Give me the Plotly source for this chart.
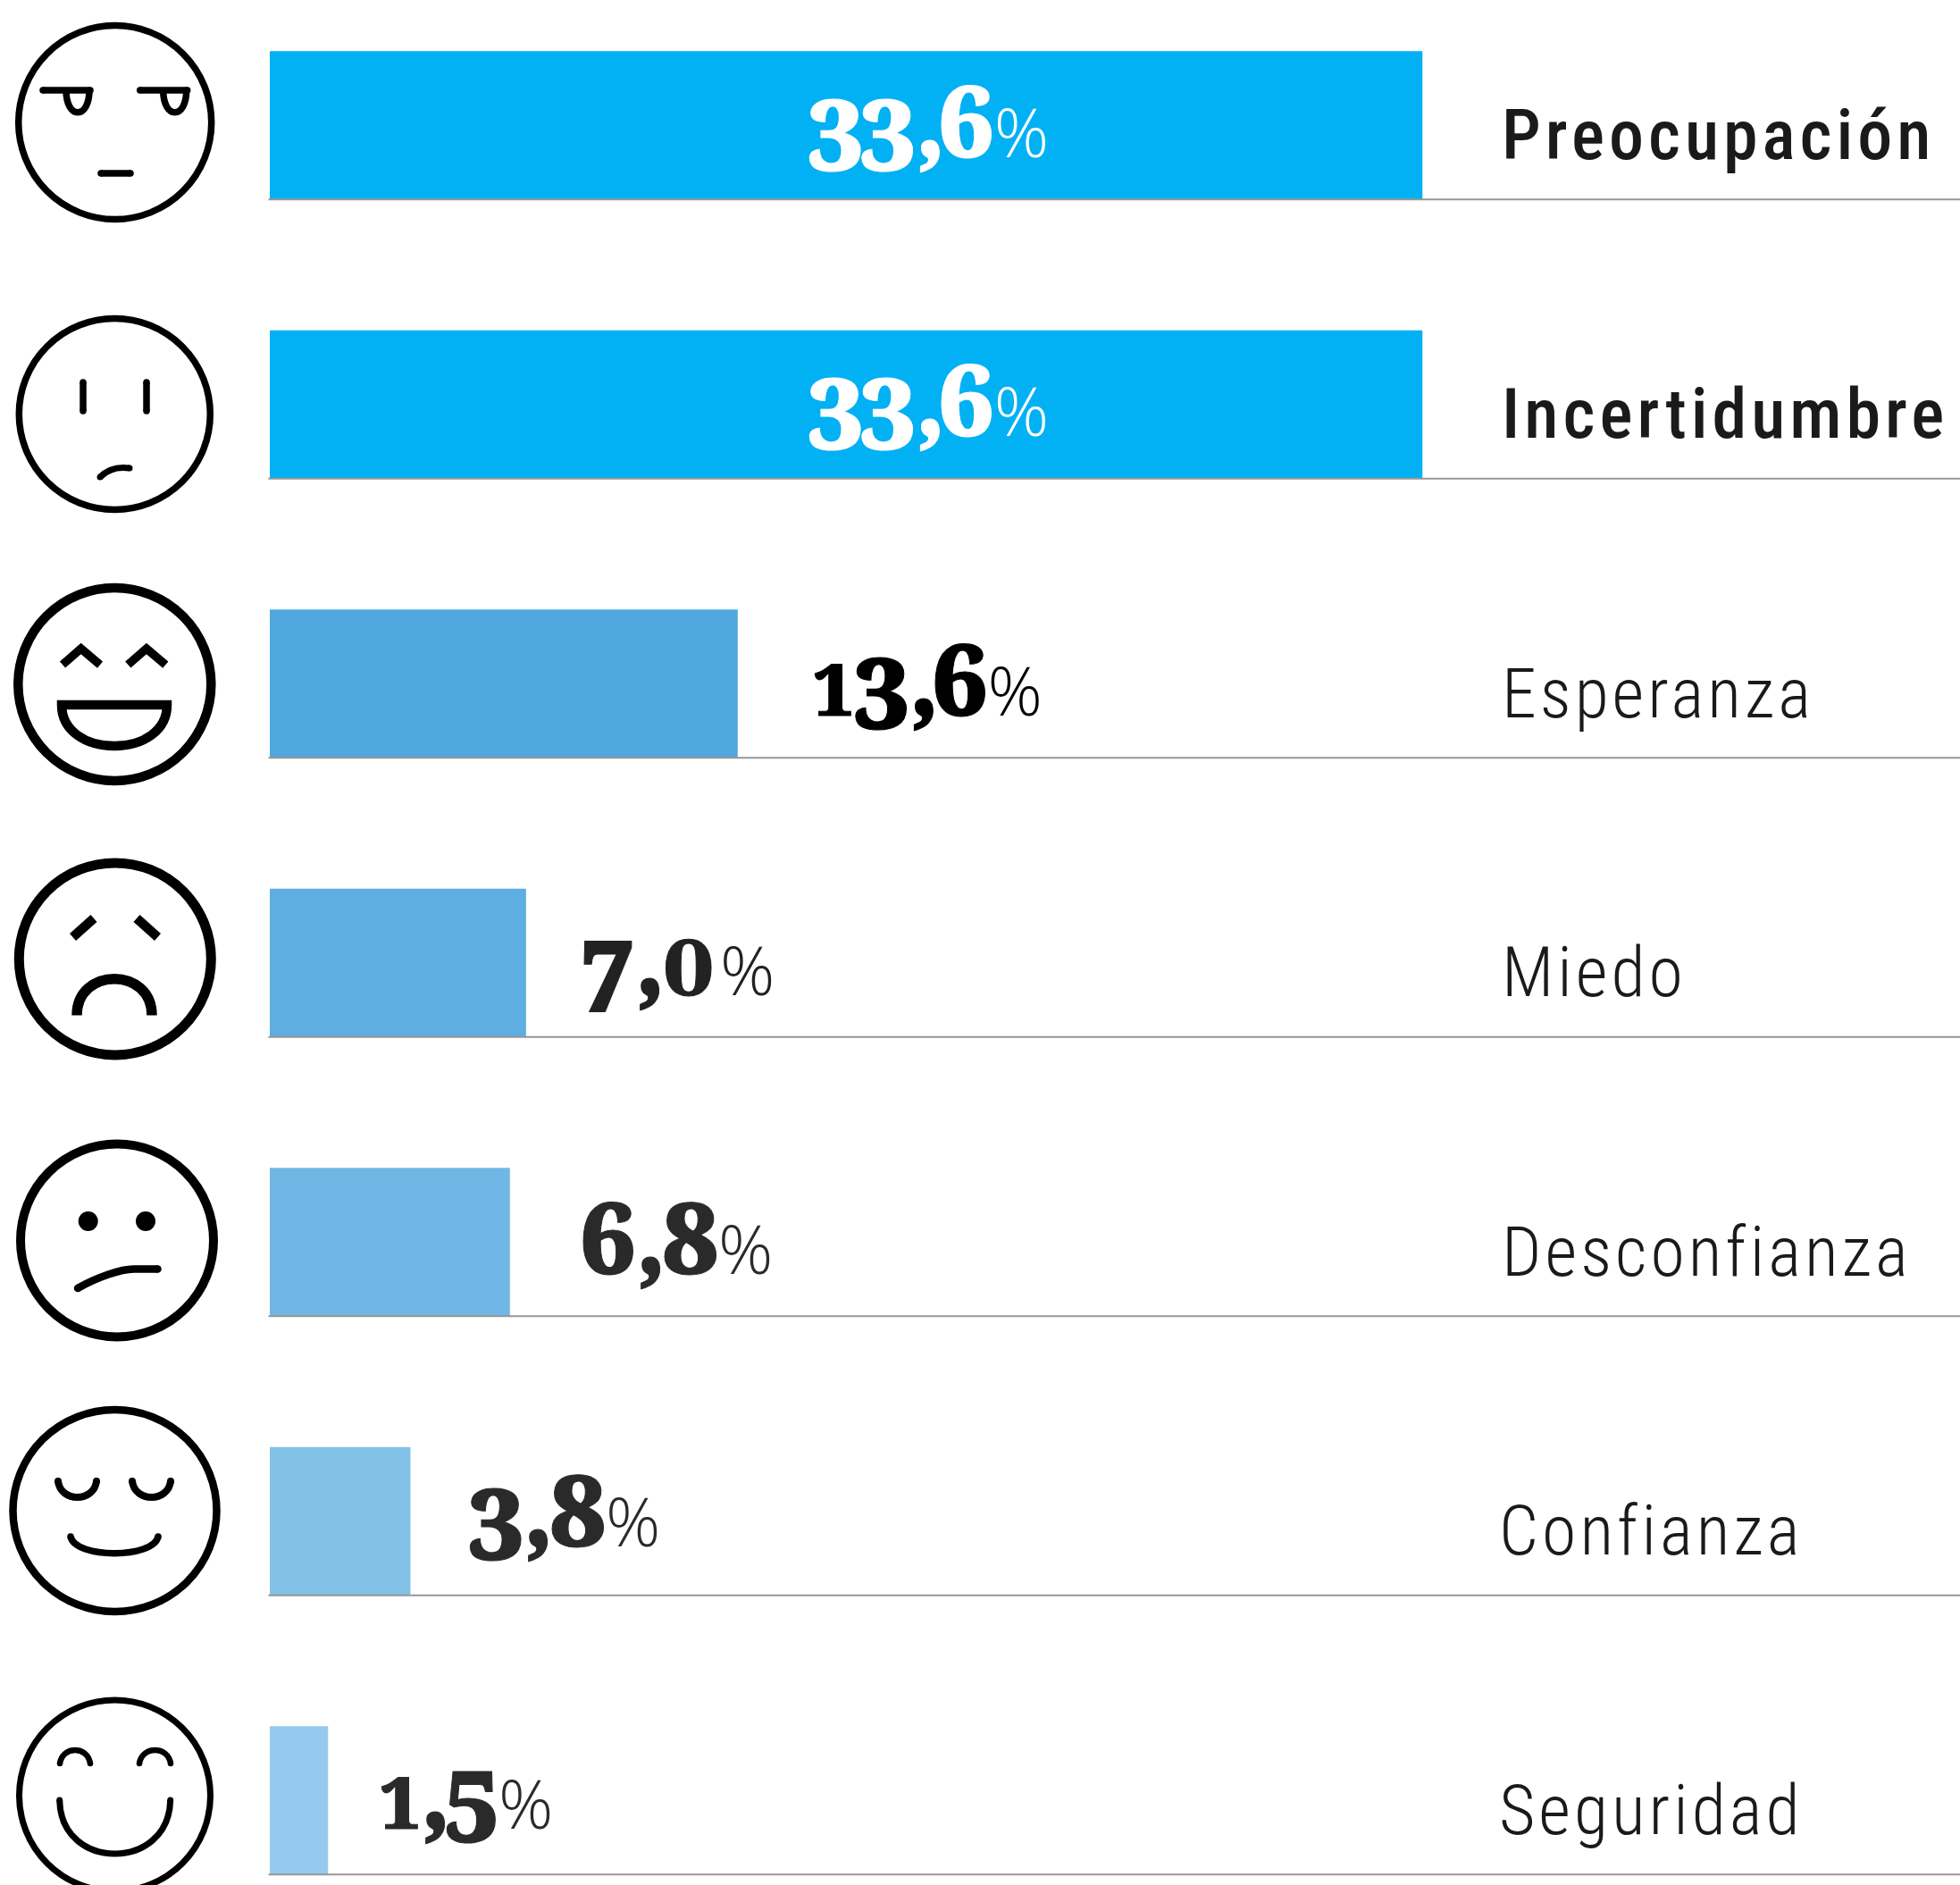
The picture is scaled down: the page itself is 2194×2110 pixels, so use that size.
import plotly.graph_objects as go

# ---------- data ----------
categories = ["Preocupación", "Incertidumbre", "Esperanza", "Miedo", "Desconfianza", "Confianza", "Seguridad"]
value_labels = ["33,6", "33,6", "13,6", "7,0", "6,8", "3,8", "1,5"]
# drawn bar lengths as they appear in the picture (not strictly proportional to the printed labels)
bar_lengths = [33.6, 33.6, 13.64, 7.47, 7.0, 4.1, 1.7]
bar_colors = ["#02B1F3", "#02B1F3", "#4FA8E0", "#5EAEE2", "#70B7E5", "#83C1E9", "#95CAEE"]
value_colors = ["#FFFFFF", "#FFFFFF", "#000000", "#222222", "#2A2A2A", "#2A2A2A", "#2A2A2A"]
bold_rows = [True, True, False, False, False, False, False]

# ---------- layout constants (pixels) ----------
W, H = 2194, 2110
X0, PX_PER_UNIT = 302.0, 38.4
ROW_STEP, ROW0_CENTER, BAR_H = 312.5, 140.25, 166.0
value_label_x = [902, 902, 908, 647, 647, 522, 423]
value_yshift = [0, 0, 0, -3, 7, 7, 4]
cat_label_x = [1679, 1679, 1679, 1679, 1679, 1676, 1676]

def px(x): return x / W
def py(y): return 1 - y / H
def P(x, y): return f"{px(x):.5f} {py(y):.5f}"

def path(d, width, fill=None):
    out = [tok if isinstance(tok, str) else P(*tok) for tok in d]
    s = dict(type="path", xref="paper", yref="paper", path=" ".join(out),
             line=dict(color="#000000", width=width), layer="above")
    if fill:
        s["fillcolor"] = fill
    return s

def ell(cx, cy, rx, ry, width, fill=None):
    return dict(type="circle", xref="paper", yref="paper", x0=px(cx - rx), x1=px(cx + rx),
                y0=py(cy + ry), y1=py(cy - ry), line=dict(color="#000000", width=width),
                fillcolor=fill, layer="above")

def seg(a, b, width):
    """Line with round ends."""
    return [path(["M", a, "L", b], width), ell(a[0], a[1], width / 2, width / 2, 0, "#000"),
            ell(b[0], b[1], width / 2, width / 2, 0, "#000")]

def curve(pts, width, round_ends=True):
    d = ["M", pts[0]]
    rest = pts[1:]
    if len(rest) % 3 == 0:
        for i in range(0, len(rest), 3):
            d += ["C", rest[i], rest[i + 1], rest[i + 2]]
    else:
        d += ["Q", rest[0], rest[1]]
    out = [path(d, width)]
    if round_ends:
        for p in (pts[0], pts[-1]):
            out.append(ell(p[0], p[1], width / 2, width / 2, 0, "#000"))
    return out

faces = []
# 1 Preocupación
faces += [ell(128.7, 137, 108, 108.5, 7.5)]
for dx in (0, 108.7):
    faces += seg((48 + dx, 101), (101 + dx, 101), 7.5)
    faces += curve([(74 + dx, 101), (74 + dx, 134), (100 + dx, 134), (100 + dx, 101)], 7.5, False)
faces += seg((113, 194), (146, 194), 7.5)
# 2 Incertidumbre
faces += [ell(128.3, 463.5, 107, 107, 7.5)]
faces += seg((93, 428), (93, 460), 7.5) + seg((164, 428), (164, 460), 7.5)
faces += curve([(112, 534), (125, 521), (145, 524)], 7)
# 3 Esperanza
faces += [ell(128.3, 766, 108, 108, 10.5)]
for dx in (0, 73.3):
    faces += [path(["M", (70 + dx, 744), "L", (90.7 + dx, 726), "L", (112 + dx, 744)], 9.5)]
faces += [path(["M", (69, 789), "L", (187, 789), "C", (187, 818), (160, 835), (128, 835),
                "C", (96, 835), (69, 818), (69, 789), "Z"], 10.5)]
# 4 Miedo
faces += [ell(128.8, 1073.4, 107.5, 107.5, 11)]
faces += [path(["M", (81.5, 1049), "L", (105, 1028)], 10.5), path(["M", (153, 1028), "L", (176.5, 1049)], 10.5)]
faces += [path(["M", (86, 1136.6), "C", (86, 1082), (170, 1082), (170, 1136.6)], 11.5)]
# 5 Desconfianza
faces += [ell(131, 1388.5, 108, 108, 10)]
faces += [ell(98.7, 1367, 11, 11, 0, "#000"), ell(163, 1367, 11, 11, 0, "#000")]
faces += curve([(87, 1442), (108, 1430), (135, 1420.5), (150, 1420.5), (160, 1420.5), (170, 1420.5), (176.5, 1420.5)], 8.5)
# 6 Confianza
faces += [ell(128.5, 1691, 114, 113, 8.5)]
for dx in (0, 83):
    faces += curve([(65 + dx, 1658), (68 + dx, 1682), (105 + dx, 1682), (108 + dx, 1658)], 8)
faces += curve([(79, 1720), (84, 1745), (172, 1745), (177, 1720)], 7.5)
# 7 Seguridad
faces += [ell(128.5, 2010, 107, 107, 7)]
faces += curve([(67, 1974), (70, 1954), (98, 1954), (101, 1974)], 6.5)
faces += curve([(156, 1974), (159, 1954), (188, 1954), (191, 1974)], 6.5)
faces += curve([(66.7, 2015), (68, 2095), (189, 2095), (190.7, 2015)], 7)

# ---------- value-label markup: old-style figures built from lining glyphs ----------
DIG = "font-family:Noto Serif;font-weight:900;font-stretch:75%;"
COMMA_GAP = {"0": -5, "8": -6}

def value_html(text, color):
    heavy = f"stroke:{color};stroke-width:1px;"
    parts = []
    for k, ch in enumerate(text):
        nxt = text[k + 1] if k + 1 < len(text) else ""
        st = f"{DIG}fill:{color};{heavy}"
        if ch in "34579":
            shift = -19 if ch == "7" else -15
            gap = -4 if nxt == ch else -1
            st += f"font-size:110px;baseline-shift:{shift}px;letter-spacing:{gap}px;"
        elif ch in "68":
            st += "font-size:110px;"
        elif ch == "0":
            st = f"font-family:DejaVu Serif;font-weight:bold;fill:{color};{heavy}font-size:84px;letter-spacing:6px;"
        elif ch == "1":
            st += "font-size:80px;"
        elif ch == ",":
            st += f"font-size:110px;letter-spacing:{COMMA_GAP.get(nxt, -10)}px;"
        parts.append(f'<span style="{st}">{ch}</span>')
    parts.append(f'<span style="font-family:Open Sans;font-weight:300;font-size:76px;fill:{color};">%</span>')
    return "".join(parts)

annotations = []
for i, (lab, cat) in enumerate(zip(value_labels, categories)):
    annotations.append(dict(xref="paper", yref="y", x=px(value_label_x[i]), y=i, xanchor="left", yanchor="middle",
                            yshift=value_yshift[i], text=value_html(lab, value_colors[i]), showarrow=False,
                            font=dict(family="Noto Serif", size=110, color=value_colors[i])))
    if bold_rows[i]:
        st = "font-family:Roboto;font-stretch:75%;font-weight:500;letter-spacing:5px;"
    else:
        st = "font-family:Roboto;font-stretch:75%;font-weight:300;letter-spacing:4px;"
    annotations.append(dict(xref="paper", yref="y", x=px(cat_label_x[i]), y=i, xanchor="left", yanchor="middle",
                            yshift=-11, text=f'<span style="{st}">{cat}</span>', showarrow=False,
                            font=dict(family="Roboto", size=78, color="#1A1A1A")))

# baselines under every bar
bar_w = BAR_H / ROW_STEP
lines = [dict(type="line", xref="paper", yref="y", x0=px(300.5), x1=1, y0=i + bar_w / 2, y1=i + bar_w / 2,
              line=dict(color="#969696", width=2), layer="above") for i in range(len(categories))]

fig = go.Figure(go.Bar(y=categories, x=bar_lengths, orientation="h", width=bar_w,
                       marker=dict(color=bar_colors, line=dict(width=0)), hoverinfo="skip"))
fig.update_layout(
    width=W, height=H, margin=dict(l=0, r=0, t=0, b=0, pad=0), autosize=False,
    paper_bgcolor="#FFFFFF", plot_bgcolor="#FFFFFF", showlegend=False,
    xaxis=dict(range=[-X0 / PX_PER_UNIT, (W - X0) / PX_PER_UNIT], visible=False, fixedrange=True),
    yaxis=dict(type="category", categoryorder="array", categoryarray=categories,
               range=[(H - ROW0_CENTER) / ROW_STEP, -ROW0_CENTER / ROW_STEP], visible=False, fixedrange=True),
    shapes=lines + faces, annotations=annotations,
)
fig.write_html("out.html", config=dict(displayModeBar=False), post_script="document.body.style.margin='0';")
